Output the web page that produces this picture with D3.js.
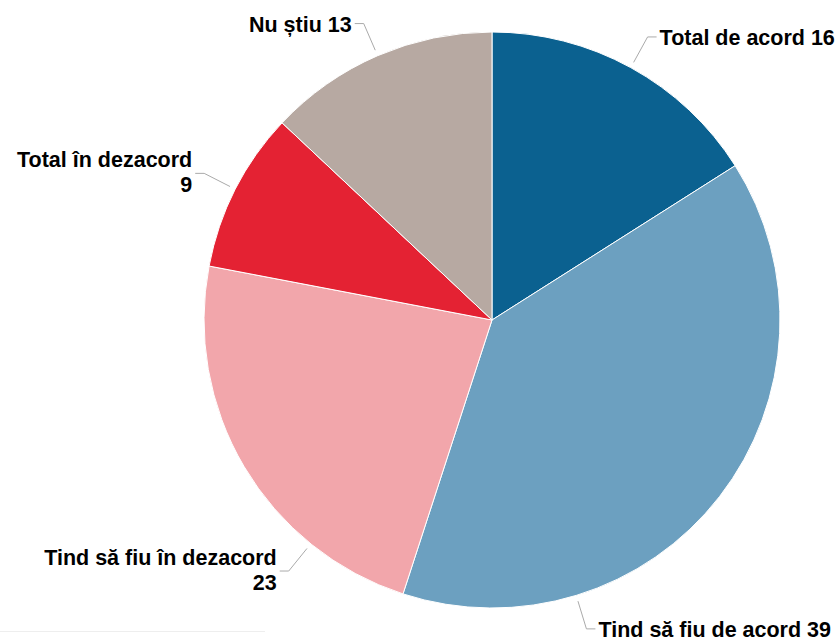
<!DOCTYPE html>
<html>
<head>
<meta charset="utf-8">
<script src="https://cdn.jsdelivr.net/npm/d3@7"></script>
<style>
  body { margin: 0; background: #fff; }
  svg { display: block; font-family: "Liberation Sans", Arial, sans-serif; }
</style>
</head>
<body>
<svg id="chart" width="840" height="637"></svg>
<script>
const categories = ["Total de acord", "Tind să fiu de acord", "Tind să fiu în dezacord", "Total în dezacord", "Nu știu"];
const values = [16, 39, 23, 9, 13];
const colors = ["#0b6190", "#6ca0c0", "#f2a6ab", "#e42233", "#b7a9a2"];
// label placement: which side the text goes, whether the number wraps, and an
// optional connector angle (degrees) where the label was pushed off the mid angle
const labelSide = ["right", "right", "left", "left", "left"];
const labelWrap = [false, false, true, true, false];
const labelAngle = [null, 163, 219, null, null];

const cx = 492, cy = 320, radius = 288;
const svg = d3.select("#chart");

const data = categories.map((name, i) => ({ name: name, value: values[i], i: i }));

const pie = d3.pie().sort(null).value(d => d.value);
const arcs = pie(data);
const arc = d3.arc().innerRadius(0).outerRadius(radius);

const g = svg.append("g").attr("transform", "translate(" + cx + "," + cy + ")");

g.selectAll("path.slice")
  .data(arcs)
  .enter().append("path")
    .attr("class", "slice")
    .attr("d", arc)
    .attr("fill", d => colors[d.data.i])
    .attr("stroke", "#fff")
    .attr("stroke-width", 1)
    .attr("stroke-linejoin", "round");

function polar(angle, r) {
  return [Math.sin(angle) * r, -Math.cos(angle) * r];
}

arcs.forEach((d) => {
  const i = d.data.i;
  const a = labelAngle[i] != null ? labelAngle[i] * Math.PI / 180 : (d.startAngle + d.endAngle) / 2;
  const p0 = polar(a, radius + 6);
  const p1 = polar(a, radius + 35);
  const dir = labelSide[i] == "right" ? 1 : -1;
  const p2 = [p1[0] + dir * 9, p1[1]];

  g.append("path")
    .attr("d", "M" + p0 + "L" + p1 + "L" + p2)
    .attr("fill", "none")
    .attr("stroke", "#aaa")
    .attr("stroke-width", 1);

  const t = g.append("text")
    .attr("x", p2[0] + dir * 3)
    .attr("y", p2[1])
    .attr("text-anchor", dir == 1 ? "start" : "end")
    .attr("font-size", 21.5)
    .attr("font-weight", "bold")
    .attr("fill", "#000");

  if (labelWrap[i]) {
    t.append("tspan").attr("x", p2[0] + dir * 3).attr("dy", -6).text(d.data.name);
    t.append("tspan").attr("x", p2[0] + dir * 3).attr("dy", 25).text(d.data.value);
  } else {
    t.attr("dy", 8).text(d.data.name + " " + d.data.value);
  }
});

// legend strip, cut off at the bottom edge
svg.append("line")
  .attr("x1", 0).attr("x2", 265)
  .attr("y1", 631.5).attr("y2", 631.5)
  .attr("stroke", "#eee");
svg.append("text")
  .attr("x", 8).attr("y", 648)
  .attr("font-size", 15)
  .attr("fill", "#333")
  .text("Total de acord      Tind să fiu de acord");
</script>
</body>
</html>
